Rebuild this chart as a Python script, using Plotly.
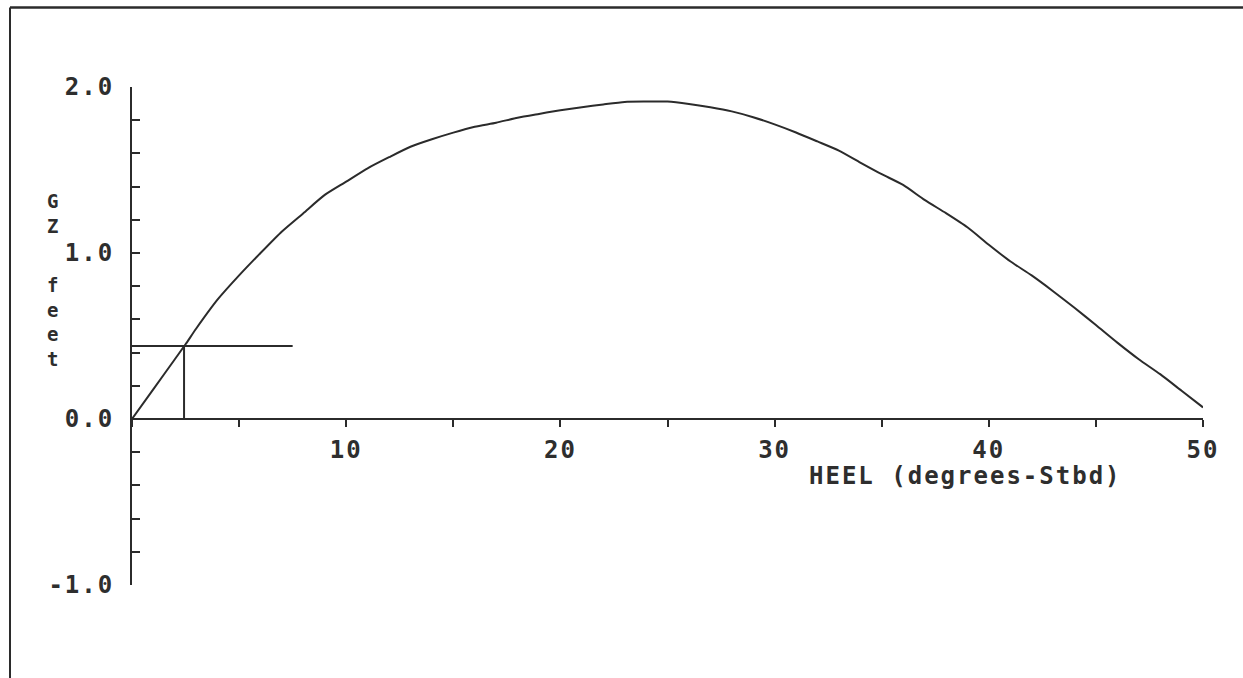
import plotly.graph_objects as go

# Righting-arm (GZ) curve, heel in degrees to starboard
heel_deg = [0, 1, 2, 2.5, 3, 4, 5, 6, 7, 8, 9, 10, 11, 12, 13, 14, 15, 16, 17,
            18, 19, 20, 21, 22, 23, 24, 25, 26, 27, 28, 29, 30, 31, 32, 33,
            34, 35, 36, 37, 38, 39, 40, 41, 42, 43, 44, 45, 46, 47, 48, 49, 50]
gz_ft = [0.0, 0.18, 0.36, 0.45, 0.545, 0.72, 0.865, 1.0, 1.13, 1.24, 1.35,
         1.43, 1.51, 1.577, 1.64, 1.685, 1.725, 1.76, 1.785, 1.815, 1.838,
         1.86, 1.878, 1.895, 1.91, 1.912, 1.912, 1.898, 1.878, 1.853, 1.818,
         1.775, 1.726, 1.672, 1.617, 1.545, 1.475, 1.41, 1.32, 1.24, 1.155,
         1.05, 0.95, 0.865, 0.77, 0.67, 0.566, 0.46, 0.36, 0.27, 0.17, 0.07]

# Reference level marked on the curve
ref_gz = 0.44
ref_heel = 2.43
ref_line_end = 7.5

# Axis ticks and labels
x_tickvals = [10, 20, 30, 40, 50]
x_ticktext = ["10", "20", "30", "40", "50"]
y_tickvals = [-1.0, 0.0, 1.0, 2.0]
y_ticktext = ["-1.0", "0.0", "1.0", "2.0"]
x_title = "HEEL (degrees-Stbd)"
y_title_top = "GZ"
y_title_bottom = "feet"

W, H = 1243, 678
ML, MR, MT, MB = 132, 40, 87, 93
PW, PH = W - ML - MR, H - MT - MB

INK = "#2b2b2b"
TXT = "#2e2e2e"
FONT = "DejaVu Sans Mono"
FSIZE = 24
TITLE_SIZE = 19


def px_x(px):
    return (px - ML) / PW


def px_y(py):
    return (H - MB - py) / PH


fig = go.Figure()

fig.add_trace(go.Scatter(
    x=heel_deg, y=gz_ft, mode="lines", line_shape="spline",
    line=dict(color=INK, width=2, smoothing=0.6),
    hoverinfo="skip", showlegend=False,
))

# horizontal and vertical marker lines at the reference GZ
fig.add_trace(go.Scatter(
    x=[0, ref_line_end], y=[ref_gz, ref_gz], mode="lines",
    line=dict(color=INK, width=2), hoverinfo="skip", showlegend=False,
))
fig.add_trace(go.Scatter(
    x=[ref_heel, ref_heel], y=[0, ref_gz], mode="lines",
    line=dict(color=INK, width=2), hoverinfo="skip", showlegend=False,
))

tick_font = dict(family=FONT, size=FSIZE, color=TXT, weight="bold")
title_font = dict(family=FONT, size=TITLE_SIZE, color=TXT, weight="bold")

fig.update_xaxes(
    range=[0, 50], showgrid=False, zeroline=False,
    showline=True, linecolor=INK, linewidth=2,
    anchor="free", position=1 / 3,
    tickmode="array", tickvals=x_tickvals, ticktext=x_ticktext,
    ticks="outside", ticklen=7, tickwidth=2, tickcolor=INK,
    minor=dict(dtick=5, tick0=0, ticks="outside", ticklen=7,
               tickwidth=2, tickcolor=INK, showgrid=False),
    tickfont=tick_font, ticklabelstandoff=2,
    layer="above traces",
)
fig.update_yaxes(
    range=[-1, 2], showgrid=False, zeroline=False,
    showline=True, linecolor=INK, linewidth=2,
    tickmode="array", tickvals=y_tickvals, ticktext=y_ticktext,
    ticks="inside", ticklen=8, tickwidth=2, tickcolor=INK,
    minor=dict(dtick=0.2, tick0=0, ticks="inside", ticklen=8,
               tickwidth=2, tickcolor=INK, showgrid=False),
    tickfont=tick_font, ticklabelstandoff=11,
    layer="above traces",
)

annotations = [
    dict(text=x_title, xref="paper", yref="paper",
         x=px_x(965), y=px_y(476), xanchor="center", yanchor="middle",
         showarrow=False, font=tick_font),
    # stacked vertical axis title, split around the 1.0 label
    dict(text="<br>".join(y_title_top), xref="paper", yref="paper",
         x=px_x(53), y=px_y(213), xanchor="center", yanchor="middle",
         showarrow=False, font=title_font),
    dict(text="<br>".join(y_title_bottom), xref="paper", yref="paper",
         x=px_x(53), y=px_y(322), xanchor="center", yanchor="middle",
         showarrow=False, font=title_font),
]

# page frame: top and left edges
shapes = [
    dict(type="line", xref="paper", yref="paper",
         x0=px_x(10), x1=px_x(W + 5), y0=px_y(7.5), y1=px_y(7.5),
         line=dict(color=INK, width=2.5)),
    dict(type="line", xref="paper", yref="paper",
         x0=px_x(10), x1=px_x(10), y0=px_y(7.5), y1=px_y(H + 5),
         line=dict(color=INK, width=2)),
]

fig.update_layout(
    width=W, height=H, autosize=False,
    margin=dict(l=ML, r=MR, t=MT, b=MB, pad=0),
    paper_bgcolor="white", plot_bgcolor="white",
    annotations=annotations, shapes=shapes,
    showlegend=False,
)

# widen the character pitch of all labels to the terminal-style spacing
widen_js = """
var gd = document.getElementById('{plot_id}');
function widenText() {
  gd.querySelectorAll('text').forEach(function (t) {
    t.style.letterSpacing = '2px';
  });
}
widenText();
setTimeout(widenText, 30);
gd.on('plotly_afterplot', widenText);
"""

fig.write_html("out.html", config={"displayModeBar": False},
               post_script=widen_js)
